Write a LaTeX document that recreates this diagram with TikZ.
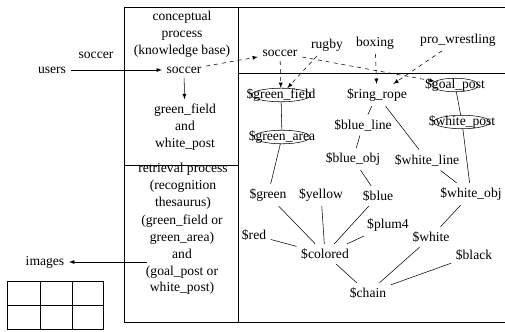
\documentclass[tikz,border=0pt]{standalone}
\usepackage{fontspec}
\setmainfont{Liberation Serif}
\usetikzlibrary{shapes.geometric}

\begin{document}
\begin{tikzpicture}[x=0.75pt,y=-0.75pt,>=latex,
    font=\fontsize{10.2}{12.6}\selectfont,
    tag/.style={draw,ellipse,inner xsep=-10pt,inner ysep=-1.2pt}]
            \useasboundingbox (0,0) rectangle (505,331);
            % frame
            \draw (124,7) -- (505,7);
            \draw (124,322) -- (505,322);
            \draw (124,7) -- (124,322);
            \draw (238,7) -- (238,322);
            \draw (124,165) -- (238,165);
            \draw (238,73) -- (505,73);
            % left part
            \node[align=center] at (182,34) (kb) {conceptual\\process\\(knowledge base)};
            \node[] at (184,70) (soccer) {soccer};
            \node[align=center] at (185,127) (gw) {green\_field\\and\\white\_post};
            \node[align=center] at (183,186) (rt) {retrieval process\\(recognition\\thesaurus)};
            \node[align=center] at (182,255) (query) {(green\_field or\\green\_area)\\and\\(goal\_post or\\white\_post)};
            \node[] at (52,70) (users) {users};
            \node[] at (96,55) (ulabel) {soccer};
            \node[] at (45,262) (images) {images};
            \coordinate (qand) at (147,262);
            \draw[->] (users) -- (soccer);
            \draw[->] (soccer) -- (gw);
            \draw[->] (qand) -- (images);
            \draw (7,281) rectangle (103,329);
            \draw (7,305) -- (103,305);
            \foreach \x in {40,72}
                \draw (\x,281) -- (\x,329);
            % right part
            \node[] at (280,53) (soccer2) {soccer};
            \node[] at (327,45) (rugby) {rugby};
            \node[] at (375,43) (boxing) {boxing};
            \node[] at (458,40) (prowr) {pro\_wrestling};
            \node[tag] at (281,95) (gfield) {\$green\_field};
            \node[] at (377,95) (ring) {\$ring\_rope};
            \node[tag] at (455,85) (gpost) {\$goal\_post};
            \node[tag] at (462,122) (wpost) {\$white\_post};
            \node[tag] at (282,137) (garea) {\$green\_area};
            \node[] at (363,125) (bline) {\$blue\_line};
            \node[] at (353,159) (bobj) {\$blue\_obj};
            \node[] at (427,160) (wline) {\$white\_line};
            \node[] at (268,195) (green) {\$green};
            \node[] at (321,195) (yellow) {\$yellow};
            \node[] at (378,196) (blue) {\$blue};
            \node[] at (471,194) (wobj) {\$white\_obj};
            \node[] at (254,235) (red) {\$red};
            \node[] at (388,225) (plum) {\$plum4};
            \node[] at (431,237) (white) {\$white};
            \node[] at (325,254) (colored) {\$colored};
            \node[] at (474,255) (black) {\$black};
            \node[] at (368,293) (chain) {\$chain};
            \draw[dashed,->] (soccer) -- (soccer2);
            \draw[dashed,->] (soccer2) -- (gfield);
            \draw[dashed,->] (rugby) -- (gfield);
            \draw[dashed,->] (boxing) -- (ring);
            \draw[dashed,->] (prowr) -- (ring);
            \draw[dashed,->] (soccer2) -- (gpost);
            \draw (gfield) -- (garea);
            \draw (garea) -- (green);
            \draw (gpost) -- (wpost);
            \draw (wpost) -- (wobj);
            \draw (ring) -- (bline);
            \draw (ring) -- (wline);
            \draw (bline) -- (bobj);
            \draw (bobj) -- (blue);
            \draw (wline) -- (wobj);
            \draw (wobj) -- (white);
            \draw (green) -- (colored);
            \draw (yellow) -- (colored);
            \draw (blue) -- (colored);
            \draw (red) -- (colored);
            \draw (plum) -- (colored);
            \draw (colored) -- (chain);
            \draw (white) -- (chain);
            \draw (black) -- (chain);
        \end{tikzpicture}
\end{document}
